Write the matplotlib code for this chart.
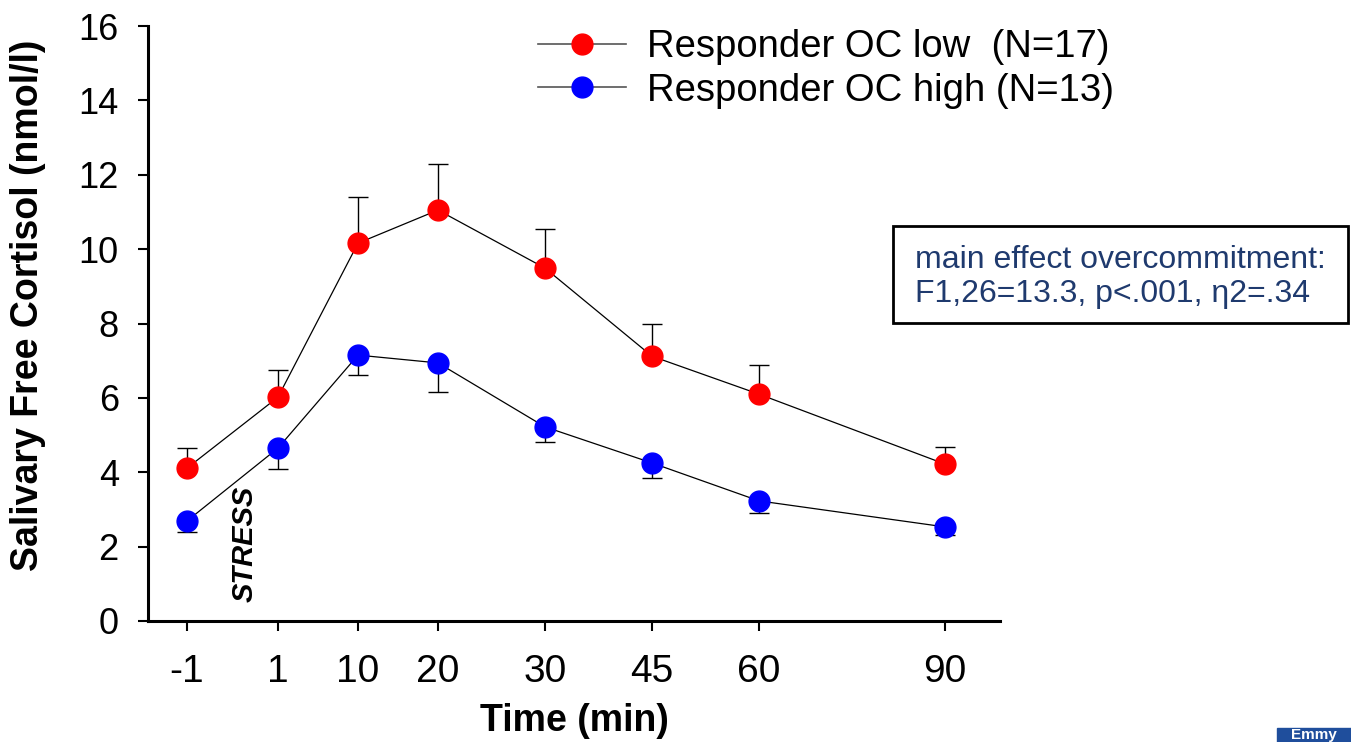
import matplotlib.pyplot as plt
from matplotlib.patches import Rectangle

# sampling times, and their place on the (uneven) time axis
time_labels = ['-1', '1', '10', '20', '30', '45', '60', '90']
time_pos = [1.87, 2.78, 3.58, 4.38, 5.45, 6.52, 7.59, 9.45]

# OC low responders (mean, upper SE)
low_mean = [4.11, 6.02, 10.16, 11.05, 9.49, 7.12, 6.10, 4.22]
low_se = [0.54, 0.73, 1.24, 1.23, 1.05, 0.86, 0.78, 0.46]

# OC high responders (mean, lower SE)
high_mean = [2.69, 4.65, 7.15, 6.94, 5.22, 4.25, 3.23, 2.53]
high_se = [0.30, 0.56, 0.54, 0.78, 0.41, 0.41, 0.33, 0.22]

plt.rcParams['font.family'] = ['Liberation Sans', 'DejaVu Sans']

fig = plt.figure(figsize=(13.51, 7.42), dpi=100)
ax = fig.add_axes([148 / 1351, 1 - 621 / 742, 852 / 1351, 595 / 742])

zeros = [0] * len(time_pos)
ax.errorbar(time_pos, low_mean, yerr=[zeros, low_se], fmt='none',
            ecolor='black', elinewidth=1, capsize=7, capthick=1, zorder=2)
ax.plot(time_pos, low_mean, color='black', lw=0.9, marker='o', markersize=15,
        markerfacecolor='red', markeredgecolor='red', zorder=3)
ax.errorbar(time_pos, high_mean, yerr=[high_se, zeros], fmt='none',
            ecolor='black', elinewidth=1, capsize=7, capthick=1, zorder=2)
ax.plot(time_pos, high_mean, color='black', lw=0.9, marker='o', markersize=15,
        markerfacecolor='blue', markeredgecolor='blue', zorder=3)

# legend proxies
h1, = ax.plot([], [], color='#555555', lw=1.2, marker='o', markersize=15,
              markerfacecolor='red', markeredgecolor='red')
h2, = ax.plot([], [], color='#555555', lw=1.2, marker='o', markersize=15,
              markerfacecolor='blue', markeredgecolor='blue')
fig.legend([h1, h2], ['Responder OC low  (N=17)', 'Responder OC high (N=13)'],
           loc='upper left', bbox_to_anchor=(538 / 1351, 1 - 29 / 742),
           frameon=False, fontsize=27.5, handlelength=2.3, handletextpad=0.55,
           labelspacing=0.2, borderpad=0, borderaxespad=0)

ax.set_xlim(1.48, 10.0)
ax.set_ylim(0, 16)
ax.set_yticks(range(0, 17, 2))
ax.set_xticks(time_pos)
ax.set_xticklabels(time_labels, family=['Liberation Sans Narrow', 'Liberation Sans'],
                   fontsize=28)
ax.tick_params(axis='y', labelsize=26, length=7, width=1.5, pad=14)
ax.tick_params(axis='x', length=7, width=1.5, pad=17)

for s in ['top', 'right']:
    ax.spines[s].set_visible(False)
for s in ['left', 'bottom']:
    ax.spines[s].set_linewidth(2.2)

ax.set_ylabel('Salivary Free Cortisol (nmol/l)', fontsize=27, fontweight='bold')
ax.yaxis.set_label_coords(-0.12, 0.53)
ax.set_xlabel('Time (min)', fontsize=27, fontweight='bold',
              family=['Liberation Sans Narrow', 'Liberation Sans'])
ax.xaxis.set_label_coords(0.5, -0.137)

ax.text(2.45, 0.5, 'STRESS', rotation=90, fontsize=21, fontweight='bold',
        fontstyle='italic', ha='center', va='bottom')

# statistics box
fig.patches.append(Rectangle((893 / 1351, 1 - 323 / 742), 455 / 1351, 97 / 742,
                             transform=fig.transFigure, fill=False,
                             edgecolor='black', lw=2))
fig.text(915 / 1351, 1 - 277 / 742,
         'main effect overcommitment:\nF1,26=13.3, p<.001, \u03b72=.34',
         fontsize=23, color='#1f3a6e', va='center', ha='left', linespacing=1.2)

# logo corner
fig.patches.append(Rectangle((1277 / 1351, 0), 74 / 1351, 14 / 742,
                             transform=fig.transFigure, color='#1f4e9c'))
fig.text(1314 / 1351, 0, 'Emmy', fontsize=11, color='white',
         fontweight='bold', ha='center', va='bottom')

fig.savefig('out.png', dpi=100)
